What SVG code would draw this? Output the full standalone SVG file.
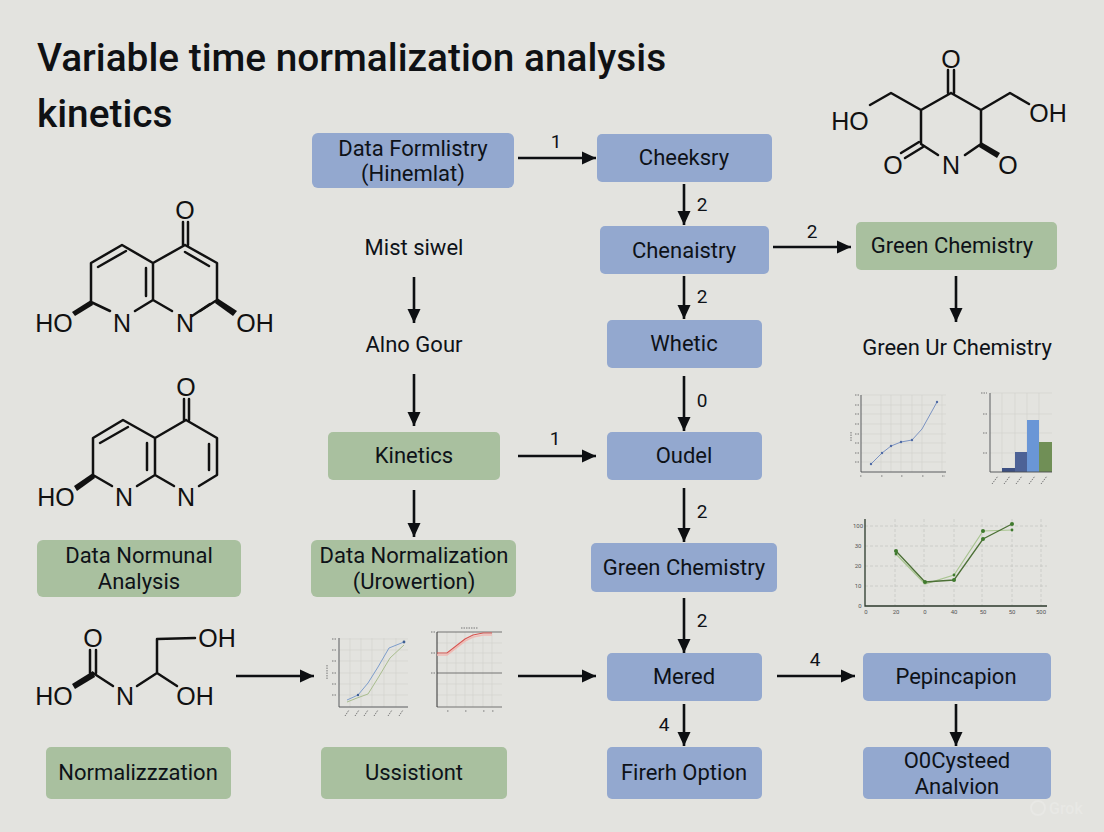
<svg xmlns="http://www.w3.org/2000/svg" width="1104" height="832" viewBox="0 0 1104 832">
<defs>
<marker id="ah" markerUnits="userSpaceOnUse" markerWidth="15" markerHeight="14" refX="14" refY="7" orient="auto"><path d="M0 0.5L14 7L0 13.5Z" fill="#0d0f12"/></marker>
</defs>
<style>
text{font-family:Roboto,"Liberation Sans",sans-serif;fill:#0e1218}
.title{font-size:38.8px;font-weight:500;fill:#0f1114}
.lb{font-size:22px;font-weight:400;text-anchor:middle}
.n{font-size:19px;font-weight:400;text-anchor:middle}
.atom{font-family:"Liberation Sans",Arial,sans-serif;font-size:25px;text-anchor:middle;fill:#111}
.blue{fill:#93a8cf}
.green{fill:#a9c09f}
.conn line{stroke:#0d0f12;stroke-width:2.6;marker-end:url(#ah)}
.bond{fill:none;stroke:#111;stroke-width:2.5;stroke-linejoin:round;stroke-linecap:round}
.wedge{fill:#111}
.ax{stroke:#4a4d50;stroke-width:.9;fill:none}
.ax2{stroke:#2c3a2c;stroke-width:1.3;fill:none}
.grid{stroke:#d2d3cf;stroke-width:.7;fill:none}
.dash{stroke:#c6c8c3;stroke-width:.8;stroke-dasharray:3 2;fill:none}
.tk{stroke:#777;stroke-width:1;fill:none;stroke-dasharray:1.5 1}
.tick{font-size:6px;fill:#555;text-anchor:middle}
</style>
<rect width="1104" height="832" fill="#e3e3df"/>
<text class="title" x="37" y="71">Variable time normalization analysis</text>
<text class="title" x="37" y="127">kinetics</text>

<g id="connectors" class="conn">
<line x1="518" y1="158" x2="596" y2="158"/>
<line x1="684" y1="184" x2="684" y2="225"/>
<line x1="773" y1="247" x2="851" y2="247"/>
<line x1="684" y1="276" x2="684" y2="319"/>
<line x1="684" y1="376" x2="684" y2="431"/>
<line x1="518" y1="456" x2="596" y2="456"/>
<line x1="684" y1="488" x2="684" y2="542"/>
<line x1="684" y1="598" x2="684" y2="653"/>
<line x1="777" y1="676" x2="855" y2="676"/>
<line x1="684" y1="704" x2="684" y2="746"/>
<line x1="956" y1="704" x2="956" y2="746"/>
<line x1="956" y1="276" x2="956" y2="322"/>
<line x1="414" y1="277" x2="414" y2="323"/>
<line x1="414" y1="374" x2="414" y2="426"/>
<line x1="414" y1="490" x2="414" y2="537"/>
<line x1="236" y1="676" x2="314" y2="676"/>
<line x1="518" y1="676" x2="596" y2="676"/>
</g>
<g id="connector-labels">
<text class="n" x="556" y="148">1</text>
<text class="n" x="702" y="211">2</text>
<text class="n" x="812" y="238">2</text>
<text class="n" x="702" y="303">2</text>
<text class="n" x="702" y="407">0</text>
<text class="n" x="555" y="445">1</text>
<text class="n" x="702" y="518">2</text>
<text class="n" x="702" y="627">2</text>
<text class="n" x="815" y="666">4</text>
<text class="n" x="664" y="731">4</text>
</g>

<g id="n-data-formlistry"><rect class="blue" x="312" y="133" width="202" height="55" rx="6"/><text class="lb" x="413" y="156">Data Formlistry</text><text class="lb" x="413" y="181">(Hinemlat)</text></g>
<g id="n-cheeksry"><rect class="blue" x="597" y="134" width="175" height="48" rx="5"/><text class="lb" x="684" y="165">Cheeksry</text></g>
<g id="n-chenaistry"><rect class="blue" x="600" y="226" width="169" height="48" rx="5"/><text class="lb" x="684" y="258">Chenaistry</text></g>
<g id="n-green-chemistry-top"><rect class="green" x="856" y="222" width="201" height="48" rx="5"/><text class="lb" x="952" y="253">Green Chemistry</text></g>
<g id="n-whetic"><rect class="blue" x="607" y="320" width="155" height="48" rx="5"/><text class="lb" x="684" y="351">Whetic</text></g>
<g id="n-oudel"><rect class="blue" x="607" y="432" width="155" height="48" rx="5"/><text class="lb" x="684" y="463">Oudel</text></g>
<g id="n-kinetics"><rect class="green" x="328" y="432" width="172" height="48" rx="5"/><text class="lb" x="414" y="463">Kinetics</text></g>
<g id="n-green-chemistry-mid"><rect class="blue" x="591" y="543" width="186" height="49" rx="5"/><text class="lb" x="684" y="575">Green Chemistry</text></g>
<g id="n-data-normunal"><rect class="green" x="37" y="540" width="204" height="57" rx="6"/><text class="lb" x="139" y="563">Data Normunal</text><text class="lb" x="139" y="589">Analysis</text></g>
<g id="n-data-normalization"><rect class="green" x="311" y="540" width="205" height="57" rx="6"/><text class="lb" x="414" y="563">Data Normalization</text><text class="lb" x="414" y="589">(Urowertion)</text></g>
<g id="n-mered"><rect class="blue" x="607" y="653" width="155" height="48" rx="5"/><text class="lb" x="684" y="684">Mered</text></g>
<g id="n-pepincapion"><rect class="blue" x="863" y="653" width="188" height="48" rx="5"/><text class="lb" x="956" y="684">Pepincapion</text></g>
<g id="n-firerh-option"><rect class="blue" x="607" y="747" width="155" height="52" rx="5"/><text class="lb" x="684" y="780">Firerh Option</text></g>
<g id="n-cysteed"><rect class="blue" x="863" y="747" width="188" height="52" rx="5"/><text class="lb" x="957" y="768">O0Cysteed</text><text class="lb" x="957" y="794">Analvion</text></g>
<g id="n-normalizzzation"><rect class="green" x="46" y="747" width="185" height="52" rx="5"/><text class="lb" x="138" y="780">Normalizzzation</text></g>
<g id="n-ussistiont"><rect class="green" x="321" y="747" width="186" height="52" rx="5"/><text class="lb" x="414" y="780">Ussistiont</text></g>
<g id="n-mist-siwel"><text class="lb" x="414" y="255">Mist siwel</text></g>
<g id="n-alno-gour"><text class="lb" x="414" y="352">Alno Gour</text></g>
<g id="n-green-ur"><text class="lb" x="957" y="355">Green Ur Chemistry</text></g>

<g id="molecule-1">
<path class="bond" d="M185 245L217 263V300L200 311M172 311L153 300L135 311M110 311L91 302V263L122 245L153 263V300M153 263L185 245"/>
<path class="bond" d="M183 222V245M188 222V245M185 252L209 266M126 251L98 267M146 268V296M192 316L210 304"/>
<path class="wedge" d="M91 300L93 305L75 316L72 312Z"/><path class="wedge" d="M217 298L215 303L233 316L237 311Z"/>
<text class="atom" x="185" y="219">O</text><text class="atom" x="122" y="332">N</text><text class="atom" x="185" y="332">N</text><text class="atom" x="54" y="332">HO</text><text class="atom" x="255" y="332">OH</text>
</g>
<g id="molecule-2">
<path class="bond" d="M186 420L217 438V475L199 486M174 486L155 475L137 486M112 486L93 475V438L123 420L155 438V475M155 438L186 420"/>
<path class="bond" d="M184 399V420M189 399V420M128 427L100 443M147 443V470M209 444V470"/>
<path class="wedge" d="M93 473L95 478L77 491L74 486Z"/>
<text class="atom" x="186" y="396">O</text><text class="atom" x="124" y="506">N</text><text class="atom" x="186" y="506">N</text><text class="atom" x="56" y="506">HO</text>
</g>
<g id="molecule-3">
<path class="bond" d="M951 93L981 110V144L965 155M938 155L921 144V110L951 93M921 110L891 93L870 105M981 110L1010 93L1029 104"/>
<path class="bond" d="M948 70V93M954 70V93M919 142L901 153M923 147L905 158"/>
<path class="wedge" d="M981 142L979 147L997 158L1000 153Z"/>
<text class="atom" x="951" y="68">O</text><text class="atom" x="951" y="174">N</text><text class="atom" x="893" y="174">O</text><text class="atom" x="1008" y="174">O</text><text class="atom" x="850" y="130">HO</text><text class="atom" x="1048" y="122">OH</text>
</g>
<g id="molecule-4">
<path class="bond" d="M93 673L113 686M137 686L157 673V639L195 638M157 673L177 686"/>
<path class="bond" d="M90 650V673M96 650V673"/>
<path class="wedge" d="M93 671L95 677L75 689L72 684Z"/>
<text class="atom" x="93" y="647">O</text><text class="atom" x="125" y="705">N</text><text class="atom" x="217" y="647">OH</text><text class="atom" x="195" y="705">OH</text><text class="atom" x="54" y="705">HO</text>
</g>

<g id="chart-a">
<path class="grid" d="M861 395H946M861 405H946M861 414H946M861 424H946M861 434H946M861 443H946M861 453H946M861 462H946M881 395V472M891 395V472M901 395V472M912 395V472M922 395V472M942 395V472"/>
<path class="ax" d="M861 395V472H946"/>
<path class="tk" d="M855 395H859M855 405H859M855 414H859M855 424H859M855 434H859M855 443H859M855 453H859M855 462H859M851 432V442M860 476H862M881 476H883M901 476H903M922 476H924M942 476H945"/>
<path d="M871 464L882 453L891 446L901 442L912 440L922 429L937 402" fill="none" stroke="#7b93c2" stroke-width="1"/>
<g fill="#4f6aa5"><circle cx="871" cy="464" r="1.2"/><circle cx="882" cy="453" r="1.2"/><circle cx="891" cy="446" r="1.2"/><circle cx="901" cy="442" r="1.2"/><circle cx="912" cy="440" r="1.2"/><circle cx="937" cy="402" r="1.2"/></g>
</g>
<g id="chart-b">
<path class="grid" d="M990 393H1052M990 414H1052M990 433H1052M990 453H1052M1002 393V472M1015 393V472M1027 393V472M1039 393V472"/>
<rect x="1002" y="468" width="13" height="4" fill="#3d5082"/><rect x="1015" y="452" width="12" height="20" fill="#4d6296"/><rect x="1027" y="420" width="12" height="52" fill="#6a96d6"/><rect x="1039" y="442" width="13" height="30" fill="#708f56"/>
<path class="ax" d="M990 393V472H1052"/>
<path class="tk" d="M981 393H987M983 414H987M983 433H987M983 453H987M992 484L998 476M1004 484L1010 476M1016 484L1022 476M1029 484L1035 476M1041 484L1047 476"/>
</g>
<g id="chart-c">
<path class="dash" d="M865 526H1047M865 546H1047M865 566H1047M865 586H1047M895 519V606M924 519V606M954 519V606M982 519V606M1012 519V606M1041 519V606"/>
<path d="M896 554L925 584L954 575L983 531L1012 530" fill="none" stroke="#a8c490" stroke-width="1.2"/>
<path d="M896 551L925 582L954 580L983 539L1012 524" fill="none" stroke="#4c7036" stroke-width="1.3"/>
<g fill="#3f7a2e"><circle cx="896" cy="551" r="2"/><circle cx="925" cy="582" r="2"/><circle cx="954" cy="580" r="2"/><circle cx="983" cy="539" r="2"/><circle cx="1012" cy="524" r="2"/><circle cx="896" cy="554" r="1.4"/><circle cx="954" cy="575" r="1.4"/><circle cx="983" cy="531" r="2"/><circle cx="1012" cy="530" r="1.4"/></g>
<path class="ax2" d="M865 519V606H1047"/>
<text class="tick" x="858" y="528">100</text><text class="tick" x="858" y="548">30</text><text class="tick" x="858" y="568">20</text><text class="tick" x="858" y="588">10</text><text class="tick" x="860" y="608">0</text>
<text class="tick" x="866" y="614">0</text><text class="tick" x="896" y="614">20</text><text class="tick" x="925" y="614">0</text><text class="tick" x="954" y="614">40</text><text class="tick" x="983" y="614">50</text><text class="tick" x="1012" y="614">50</text><text class="tick" x="1041" y="614">500</text>
</g>
<g id="chart-d">
<path class="grid" d="M339 639H408M339 650H408M339 661H408M339 673H408M339 684H408M339 695H408M350 638V707M361 638V707M372 638V707M384 638V707M396 638V707"/>
<path d="M347 700L358 695L368 683L378 667L389 648L404 642" fill="none" stroke="#7d9dcc" stroke-width="1"/>
<path d="M347 702L357 698L368 694L378 678L390 658L404 645" fill="none" stroke="#a9bd8e" stroke-width="1"/>
<circle cx="404" cy="642" r="1.4" fill="#3e5f93"/><circle cx="358" cy="695" r="1.2" fill="#3e5f93"/>
<path class="ax" d="M339 638V707H408" stroke-width="1.2"/>
<path class="tk" d="M332 639H337M332 650H337M332 661H337M332 673H337M332 684H337M332 695H337M327 665V680M345 716L349 710M355 716L359 710M364 716L368 710M374 716L378 710M388 716L392 710M399 716L403 710"/>
</g>
<g id="chart-e">
<path class="grid" d="M437 643H502M437 653H502M437 663H502M437 684H502M437 695H502M447 632V707M456 632V707M465 632V707M473 632V707M483 632V707M492 632V707"/>
<path d="M437 632H502M437 673H502M437 707H502" fill="none" stroke="#666" stroke-width=".9"/>
<path d="M437 632V707" fill="none" stroke="#333" stroke-width="1"/>
<path class="tk" d="M461 628H478M431 632H435M431 653H435M431 673H435M447 711H449M465 711H467M483 711H485M492 711H494"/>
<path d="M437 655L447 655L465 641L473 637L483 635L492 635" fill="none" stroke="#efbbb5" stroke-width="1.6"/>
<path d="M437 653L447 653L465 639L473 635L483 633L492 633" fill="none" stroke="#d9534f" stroke-width="1.1"/>
</g>
<g id="watermark" opacity=".55"><circle cx="1038" cy="808" r="7" fill="none" stroke="#ededea" stroke-width="2"/><text x="1049" y="814" font-size="16" style="fill:#ededea;font-weight:500">Grok</text></g>
</svg>
